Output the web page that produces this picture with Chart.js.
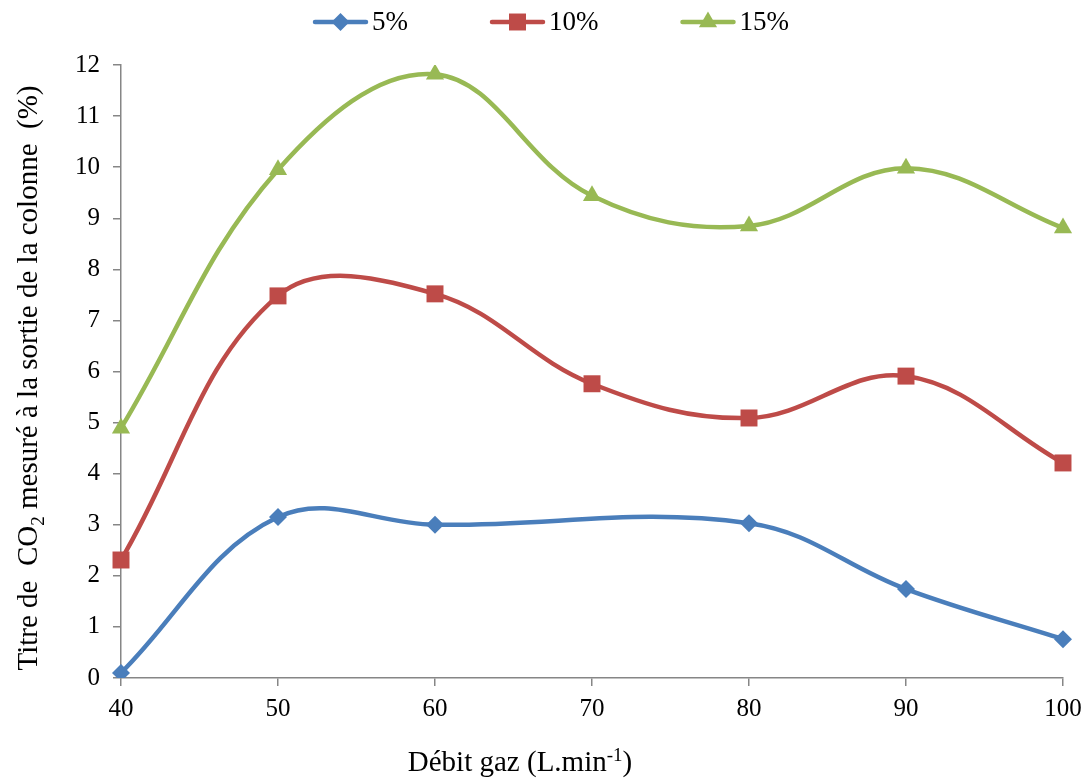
<!DOCTYPE html>
<html>
<head>
<meta charset="utf-8">
<script src="https://cdn.jsdelivr.net/npm/chart.js@4.4.1/dist/chart.umd.min.js"></script>
<style>
  html, body { margin: 0; padding: 0; background: #fff; }
  #wrap { width: 1091px; height: 783px; }
</style>
</head>
<body>
<div id="wrap"><canvas id="co2Chart" width="1091" height="783"></canvas></div>
<script>
const debit = ['40', '50', '60', '70', '80', '90', '100']
const serie5 = [0.1, 3.15, 3.0, null, 3.03, 1.74, 0.76]
const serie10 = [2.31, 7.48, 7.52, 5.76, 5.09, 5.91, 4.21]
const serie15 = [4.89, 9.95, 11.82, 9.44, 8.85, 9.98, 8.81]
const seriesNames = ['5%', '10%', '15%']
const colors = ['#4A7EBB', '#BE4B48', '#98B954']
const markers = ['rectRot', 'rect', 'triangle']
const markerSize = [9, 12, 10.5]

const serif = "'Liberation Serif', 'Times New Roman', serif"
const axisGrey = '#868686'

// draws text pieces with sub / superscripts, centred on x
function richText(ctx, parts, x, y) {
  const big = '29px ' + serif
  const small = '19px ' + serif
  let total = 0
  parts.forEach(p => {
    ctx.font = p.sup || p.sub ? small : big
    total += ctx.measureText(p.t).width
  })
  let cx = x - total / 2
  parts.forEach(p => {
    ctx.font = p.sup || p.sub ? small : big
    let dy = p.sup ? -10 : (p.sub ? 7 : 0)
    ctx.fillText(p.t, cx, y + dy)
    cx += ctx.measureText(p.t).width
  })
}

// axis titles (need sub/superscript) and the line+marker legend
const extras = {
  id: 'extras',
  afterDraw(chart) {
    const ctx = chart.ctx
    ctx.save()
    ctx.fillStyle = '#000'
    ctx.textBaseline = 'alphabetic'
    ctx.textAlign = 'left'
    richText(ctx, [{ t: 'Débit gaz (L.min' }, { t: '-1', sup: true }, { t: ')' }], 520, 771)
    ctx.save()
    ctx.translate(37, 378)
    ctx.rotate(-Math.PI / 2)
    richText(ctx, [{ t: 'Titre de  CO' }, { t: '2', sub: true }, { t: ' mesuré à la sortie de la colonne  (%)' }], 0, 0)
    ctx.restore()

    // legend
    let x = 313
    const y = 22
    ctx.font = '27px ' + serif
    ctx.textBaseline = 'middle'
    chart.data.datasets.forEach((ds, i) => {
      ctx.strokeStyle = colors[i]
      ctx.lineWidth = 4.5
      ctx.lineCap = 'round'
      ctx.beginPath()
      ctx.moveTo(x + 2, y)
      ctx.lineTo(x + 53, y)
      ctx.stroke()
      ctx.fillStyle = colors[i]
      Chart.helpers.drawPoint(ctx, { pointStyle: markers[i], radius: markerSize[i], rotation: 0, borderWidth: 0 }, x + 27.5, y)
      ctx.fillStyle = '#000'
      ctx.fillText(ds.label, x + 59, y + 1)
      x += 59 + ctx.measureText(ds.label).width + 82
    })
    ctx.restore()
  }
}

function makeDataset(i, values) {
  return {
    label: seriesNames[i],
    data: values,
    borderColor: colors[i],
    backgroundColor: colors[i],
    borderWidth: 4.5,
    pointStyle: markers[i],
    pointRadius: markerSize[i],
    pointHoverRadius: markerSize[i],
    pointBorderWidth: 0,
    tension: 0.38,
    spanGaps: true
  }
}

const canvas = document.getElementById('co2Chart')
const ctx = canvas.getContext('2d')

new Chart(ctx, {
  type: 'line',
  data: {
    labels: debit,
    datasets: [
      makeDataset(0, serie5),
      makeDataset(1, serie10),
      makeDataset(2, serie15)
    ]
  },
  options: {
    responsive: false,
    animation: false,
    layout: { padding: { top: 65, right: 28, bottom: 0, left: 0 } },
    plugins: {
      tooltip: { enabled: false },
      legend: { display: false }
    },
    scales: {
      x: {
        type: 'category',
        offset: false,
        afterFit: (scale) => { scale.height = 105 },
        grid: { drawOnChartArea: false, tickLength: 8, color: axisGrey, lineWidth: 1.5 },
        border: { color: axisGrey, width: 1.5 },
        ticks: { color: '#000', padding: 8, font: { family: serif, size: 25 }, maxRotation: 0 }
      },
      y: {
        min: 0,
        max: 12,
        afterFit: (scale) => { scale.width = 121 },
        grid: { drawOnChartArea: false, tickLength: 8, color: axisGrey, lineWidth: 1.5 },
        border: { color: axisGrey, width: 1.5 },
        ticks: { stepSize: 1, color: '#000', padding: 13, font: { family: serif, size: 25 } }
      }
    }
  },
  plugins: [extras]
})
</script>
</body>
</html>
